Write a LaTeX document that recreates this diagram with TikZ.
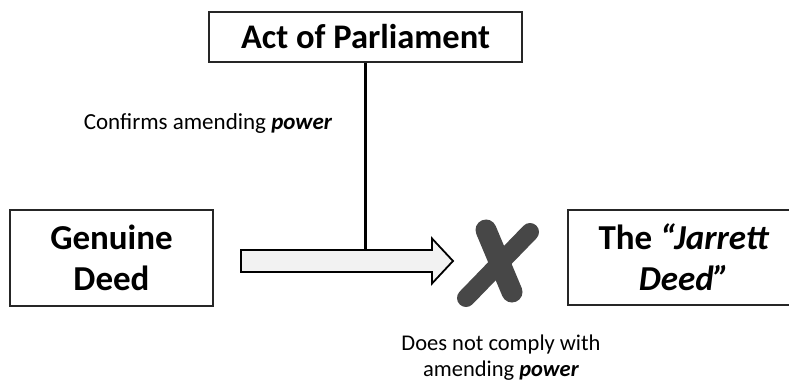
\documentclass[tikz,border=0pt]{standalone}
\usepackage{fontspec}
\setmainfont{Carlito}
\usetikzlibrary{shapes,arrows,positioning,calc}

\begin{document}
\begin{tikzpicture}[x=1pt, y=-1pt, node distance=2cm, auto,
    deedbox/.style={draw=black!85, rectangle, line width=1.3pt, fill=white, align=center},
    xstroke/.style={draw=black!72, line width=21pt, line cap=round}]
    \useasboundingbox (0,0) rectangle (789,382);
    \clip (0,0) rectangle (789,382);

    \node[deedbox, minimum width=313pt, minimum height=50pt, font=\fontsize{34.5}{40}\selectfont\bfseries] (act) at (365.5,37) {Act of Parliament};
    \node[deedbox, minimum width=203pt, minimum height=96pt, font=\fontsize{35}{41}\selectfont\bfseries] (genuine) at (111.5,258) {Genuine\\Deed};
    \node[deedbox, minimum width=232pt, minimum height=95pt, font=\fontsize{35}{41}\selectfont\bfseries] (jarrett) at (684,257.5) {The \textit{“Jarrett}\\\textit{Deed”}};

    % block arrow
    \coordinate (tail) at (241,261);
    \coordinate (tip) at (453,261);
    \draw[line width=1.8pt, fill=black!5, line join=miter]
        ($(tail)+(0,-11)$) -- ($(tip)+(-21,-11)$) -- ($(tip)+(-21,-22.5)$) -- (tip)
        -- ($(tip)+(-21,22.5)$) -- ($(tip)+(-21,11)$) -- ($(tail)+(0,11)$) -- cycle;
    \coordinate (meet) at (act.south |- 0,250);
    \draw[line width=2.5pt] (act.south) -- (meet);

    \coordinate (cross) at (498,262);
    \draw[xstroke] ($(cross)+(-12,-32)$) -- ($(cross)+(14,30)$);
    \draw[xstroke, line width=18pt] ($(cross)+(32,-30)$) -- ($(cross)+(-32,36)$);

    \node[font=\fontsize{23}{27}\selectfont] (confirms) at (208,123) {Confirms amending \textbf{\textit{power}}};
    \node[align=center, font=\fontsize{22.5}{26}\selectfont] (nocomply) at (501,358) {Does not comply with\\amending \textbf{\textit{power}}};
\end{tikzpicture}
\end{document}
